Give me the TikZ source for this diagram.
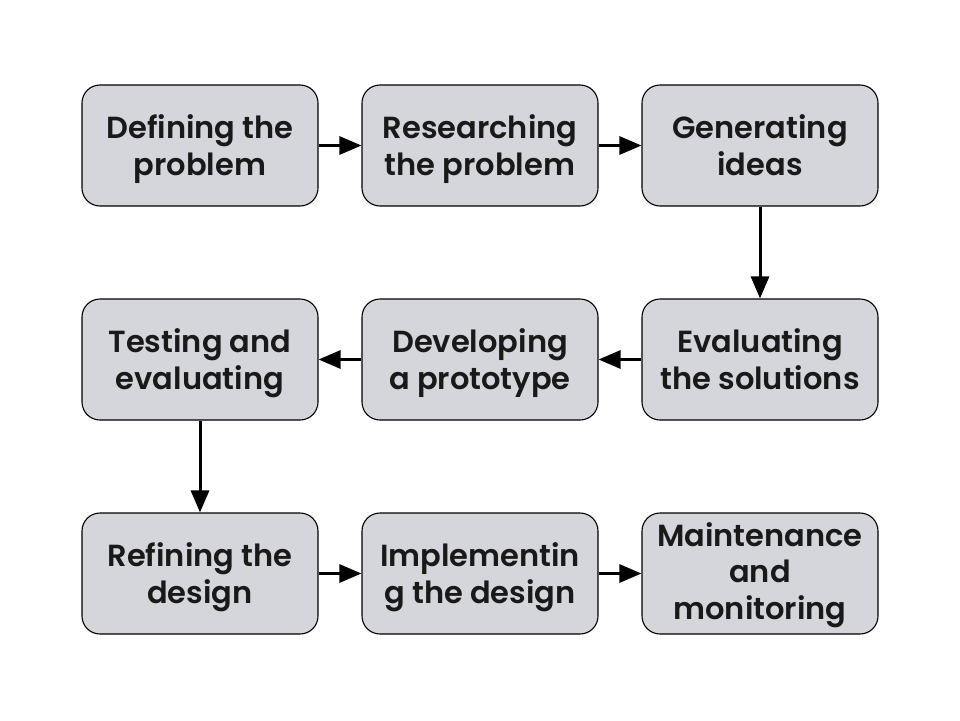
\documentclass[tikz,border=0pt]{standalone}
\usepackage{fontspec}
\setmainfont{Poppins}[UprightFont=* SemiBold, BoldFont=* SemiBold]
\usetikzlibrary{arrows.meta}
\begin{document}
\begin{tikzpicture}[x=1pt,y=-1pt,
  stepbox/.style={draw=black, line width=1.1pt, fill={rgb,255:red,212;green,214;blue,220}, rounded corners=18pt,
    minimum width=236pt, minimum height=121pt, inner sep=0pt},
  txt/.style={align=center, inner sep=0pt, yshift=-5pt,
    font=\fontsize{30.5}{36.5}\selectfont, text=black!90,
    execute at begin node=\strut, execute at end node=\strut},
  conn/.style={line width=3pt, -{Triangle[length=22pt,width=18pt]}}]
\useasboundingbox (0,0) rectangle (960,720);
\node[stepbox] (a) at (200,145.5) {};
\node[stepbox] (b) at (480,145.5) {};
\node[stepbox] (c) at (760,145.5) {};
\node[stepbox] (d) at (760,359.5) {};
\node[stepbox] (e) at (480,359.5) {};
\node[stepbox] (f) at (200,359.5) {};
\node[stepbox] (g) at (200,573.5) {};
\node[stepbox] (h) at (480,573.5) {};
\node[stepbox] (i) at (760,573.5) {};
\node[txt] (ta) at (a.center) {Defining the\\problem};
\node[txt] (tb) at (b.center) {Researching\\the problem};
\node[txt] (tc) at (c.center) {Generating\\ideas};
\node[txt] (td) at (d.center) {Evaluating\\the solutions};
\node[txt] (te) at (e.center) {Developing\\a prototype};
\node[txt] (tf) at (f.center) {Testing and\\evaluating};
\node[txt] (tg) at (g.center) {Refining the\\design};
\node[txt] (th) at (h.center) {Implementin\\g the design};
\node[txt, yshift=2pt] (ti) at (i.center) {Maintenance\\and\\monitoring};
\draw[conn] (a) -- (b);
\draw[conn] (b) -- (c);
\draw[conn] (c) -- (d);
\draw[conn] (d) -- (e);
\draw[conn] (e) -- (f);
\draw[conn] (f) -- (g);
\draw[conn] (g) -- (h);
\draw[conn] (h) -- (i);
\end{tikzpicture}
\end{document}
